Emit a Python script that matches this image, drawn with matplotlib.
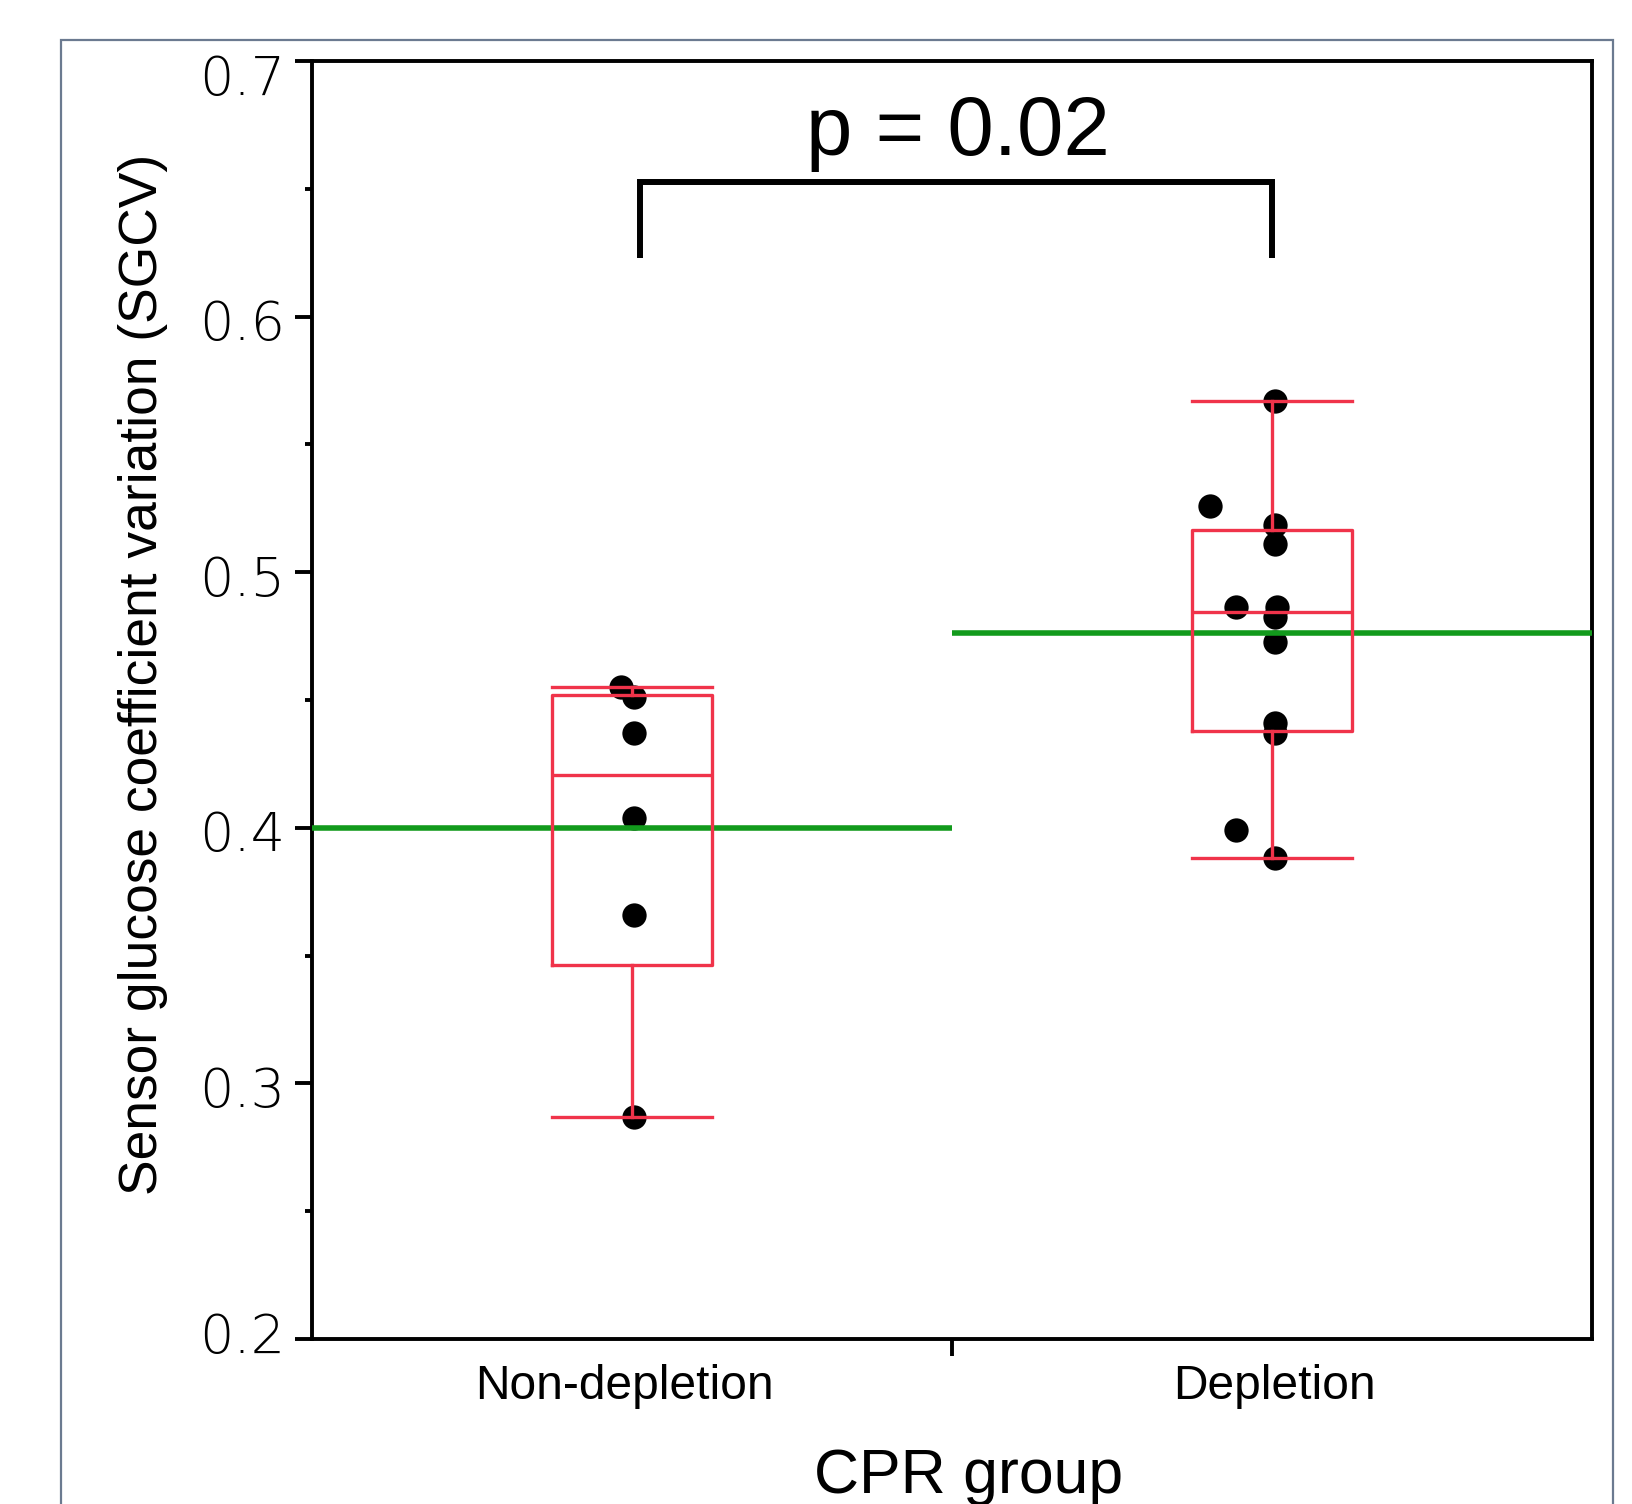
import numpy as np
import matplotlib
matplotlib.use("Agg")
import matplotlib.pyplot as plt
from matplotlib.patches import Rectangle
from matplotlib.transforms import ScaledTranslation

# ---- data ----
categories = ["Non-depletion", "Depletion"]
nondep_values = [0.455, 0.451, 0.437, 0.404, 0.366, 0.287]
nondep_jitter = [-0.017, 0.003, 0.003, 0.003, 0.003, 0.003]
dep_values = [0.567, 0.526, 0.5185, 0.511, 0.4865, 0.4865, 0.4826, 0.4728, 0.441, 0.437, 0.399, 0.388]
dep_jitter = [0.004, -0.097, 0.004, 0.004, -0.056, 0.008, 0.004, 0.004, 0.004, 0.004, -0.056, 0.004]
y_ticks = [0.2, 0.3, 0.4, 0.5, 0.6, 0.7]
y_tick_labels = ["0.2", "0.3", "0.4", "0.5", "0.6", "0.7"]
p_label = "p = 0.02"
y_label = "Sensor glucose coefficient variation (SGCV)"
x_label = "CPR group"

groups = [nondep_values, dep_values]
jitters = [nondep_jitter, dep_jitter]

RED = "#f0334a"
GREEN = "#129a1c"
FONT = "Liberation Sans"

W, H = 1632, 1504
fig = plt.figure(figsize=(W / 100, H / 100), dpi=100)
ax = fig.add_axes([312 / W, 1 - 1339 / H, 1280 / W, 1278 / H])

# outer frame
fig.add_artist(Rectangle((61 / W, -0.1), (1613 - 61) / W, 0.1 + 1 - 40 / H,
                         transform=fig.transFigure, fill=False,
                         edgecolor="#6b7a90", linewidth=1.6, clip_on=False))

# points
for i, (vals, jit) in enumerate(zip(groups, jitters)):
    xs = [i + j for j in jit]
    ax.plot(xs, vals, "o", color="black", markersize=17.5, markeredgewidth=0, zorder=2)

# mean lines
for i, vals in enumerate(groups):
    m = np.mean(vals)
    ax.plot([i - 0.5, i + 0.5], [m, m], color=GREEN, linewidth=4.0, zorder=3,
            solid_capstyle="butt")

# box stats (quantiles with (n+1)p rule)
stats = []
for vals in groups:
    v = np.asarray(vals)
    q1, med, q3 = np.percentile(v, [25, 50, 75], method="weibull")
    iqr = q3 - q1
    lo = v[v >= q1 - 1.5 * iqr].min()
    hi = v[v <= q3 + 1.5 * iqr].max()
    stats.append(dict(med=med, q1=q1, q3=q3, whislo=lo, whishi=hi, fliers=[]))

LW = 2.4
ax.bxp(stats, positions=[0, 1], widths=0.25, capwidths=0.25, showfliers=False,
       boxprops=dict(color=RED, linewidth=LW, zorder=4),
       medianprops=dict(color=RED, linewidth=LW, zorder=4),
       whiskerprops=dict(color=RED, linewidth=LW, zorder=4),
       capprops=dict(color=RED, linewidth=LW, zorder=4),
       manage_ticks=False)

# significance bracket
ax.plot([0.012, 0.012, 1.0, 1.0], [0.623, 0.6528, 0.6528, 0.623], color="black",
        linewidth=4.3, solid_joinstyle="miter", solid_capstyle="butt", zorder=5)
ax.text(0.509, 0.6632, p_label, ha="center", va="baseline", fontsize=60,
        family=FONT, color="black")

# axes
ax.set_xlim(-0.5, 1.5)
ax.set_ylim(0.2, 0.7)
for s in ax.spines.values():
    s.set_linewidth(2.8)
    s.set_color("black")

ax.set_xticks([0, 1])
ax.set_xticklabels(categories, fontsize=34.5, family=FONT)
ax.set_xticks([0.5], minor=True)
ax.tick_params(axis="x", which="major", length=0, pad=18)
ax.tick_params(axis="x", which="minor", length=12.2, width=2.8, direction="out")

ax.set_yticks(y_ticks)
ax.set_yticks(np.arange(0.25, 0.7, 0.1), minor=True)
ax.set_yticklabels(y_tick_labels, fontsize=39, family="DejaVu Sans",
                   fontweight="light", color="black")
ax.tick_params(axis="y", which="major", length=12.2, width=2.8, direction="out", pad=7)
ax.tick_params(axis="y", which="minor", length=5, width=2.8, direction="out")

# end labels kept inside axis range
offs = {"0.7": -13, "0.2": 6}
for lbl, txt in zip(ax.get_yticklabels(), y_tick_labels):
    dy = offs.get(txt, -3)
    lbl.set_transform(lbl.get_transform() + ScaledTranslation(0, dy / 100, fig.dpi_scale_trans))

# x labels: first slightly left of its category centre
xoffs = [-8, 2]
for lbl, dx in zip(ax.get_xticklabels(), xoffs):
    lbl.set_transform(lbl.get_transform() + ScaledTranslation(dx / 100, 0, fig.dpi_scale_trans))

fig.text(143 / W, 1 - 674 / H, y_label, rotation=90, ha="center", va="center",
         fontsize=38.4, family=FONT)
fig.text(969 / W, 1 - 1493 / H, x_label, ha="center", va="baseline",
         fontsize=45, family=FONT)

fig.savefig("out.png", dpi=100, facecolor="white")
